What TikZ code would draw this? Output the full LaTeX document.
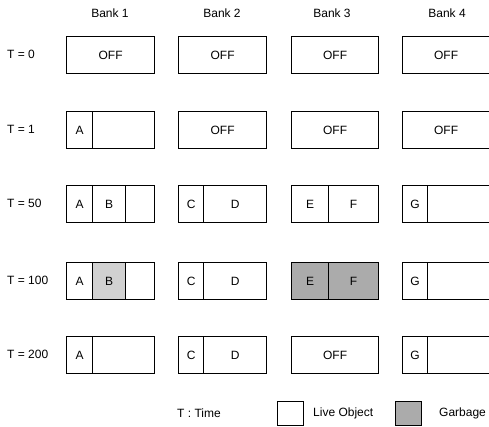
\documentclass[tikz,border=0pt]{standalone}
\usepackage{fontspec}
\setmainfont{Liberation Sans}
\begin{document}
\begin{tikzpicture}[x=1pt,y=-1pt,
  every node/.style={font=\fontsize{12}{14}\selectfont},
  cell/.style={draw, line width=1.3pt, minimum height=37pt, inner sep=0pt, anchor=north west},
  junk/.style={cell, fill=black!33},
  lightjunk/.style={cell, fill=black!18},
  rowlabel/.style={anchor=west, inner sep=0pt},
  header/.style={inner sep=0pt},
  keybox/.style={draw, line width=1.3pt, minimum width=26pt, minimum height=24pt, inner sep=0pt, anchor=north west}]
\useasboundingbox (0,0) rectangle (489,427);

% column headers
\node[header] (h1) at (110,13) {Bank 1};
\node[header] (h2) at (222,13) {Bank 2};
\node[header] (h3) at (332,13) {Bank 3};
\node[header] (h4) at (447,13) {Bank 4};

% row labels
\node[rowlabel] (l0) at (7,54.5) {T = 0};
\node[rowlabel] (l1) at (7,129.5) {T = 1};
\node[rowlabel] (l50) at (7,203.5) {T = 50};
\node[rowlabel] (l100) at (7,280.5) {T = 100};
\node[rowlabel] (l200) at (7,354.5) {T = 200};

% T = 0
\node[cell, minimum width=88pt] (a0) at (66,36) {OFF};
\node[cell, minimum width=88pt] (b0) at (178,36) {OFF};
\node[cell, minimum width=87pt] (c0) at (291,36) {OFF};
\node[cell, minimum width=87pt] (d0) at (402,36) {OFF};

% T = 1
\node[cell, minimum width=26pt] (a1A) at (66,111) {A};
\node[cell, minimum width=62pt] (a1e) at (92,111) {};
\node[cell, minimum width=88pt] (b1) at (178,111) {OFF};
\node[cell, minimum width=87pt] (c1) at (291,111) {OFF};
\node[cell, minimum width=87pt] (d1) at (402,111) {OFF};

% T = 50
\node[cell, minimum width=26pt] (a50A) at (66,185) {A};
\node[cell, minimum width=33pt] (a50B) at (92,185) {B};
\node[cell, minimum width=29pt] (a50e) at (125,185) {};
\node[cell, minimum width=25pt] (b50C) at (178,185) {C};
\node[cell, minimum width=63pt] (b50D) at (203,185) {D};
\node[cell, minimum width=37pt] (c50E) at (291,185) {E};
\node[cell, minimum width=50pt] (c50F) at (328,185) {F};
\node[cell, minimum width=25pt] (d50G) at (402,185) {G};
\node[cell, minimum width=62pt] (d50e) at (427,185) {};

% T = 100
\node[cell, minimum width=26pt] (a100A) at (66,262) {A};
\node[lightjunk, minimum width=33pt] (a100B) at (92,262) {B};
\node[cell, minimum width=29pt] (a100e) at (125,262) {};
\node[cell, minimum width=25pt] (b100C) at (178,262) {C};
\node[cell, minimum width=63pt] (b100D) at (203,262) {D};
\node[junk, minimum width=37pt] (c100E) at (291,262) {E};
\node[junk, minimum width=50pt] (c100F) at (328,262) {F};
\node[cell, minimum width=25pt] (d100G) at (402,262) {G};
\node[cell, minimum width=62pt] (d100e) at (427,262) {};

% T = 200
\node[cell, minimum width=26pt] (a200A) at (66,336) {A};
\node[cell, minimum width=62pt] (a200e) at (92,336) {};
\node[cell, minimum width=25pt] (b200C) at (178,336) {C};
\node[cell, minimum width=63pt] (b200D) at (203,336) {D};
\node[cell, minimum width=87pt] (c200) at (291,336) {OFF};
\node[cell, minimum width=25pt] (d200G) at (402,336) {G};
\node[cell, minimum width=62pt] (d200e) at (427,336) {};

% legend
\node[rowlabel] (kt) at (177,413) {T : Time};
\node[keybox] (klive) at (277,401) {};
\node[rowlabel] (klivet) at (313,413) {Live Object};
\node[keybox, fill=black!33] (kgarb) at (395,401) {};
\node[rowlabel] (kgarbt) at (439,413) {Garbage};
\end{tikzpicture}
\end{document}
